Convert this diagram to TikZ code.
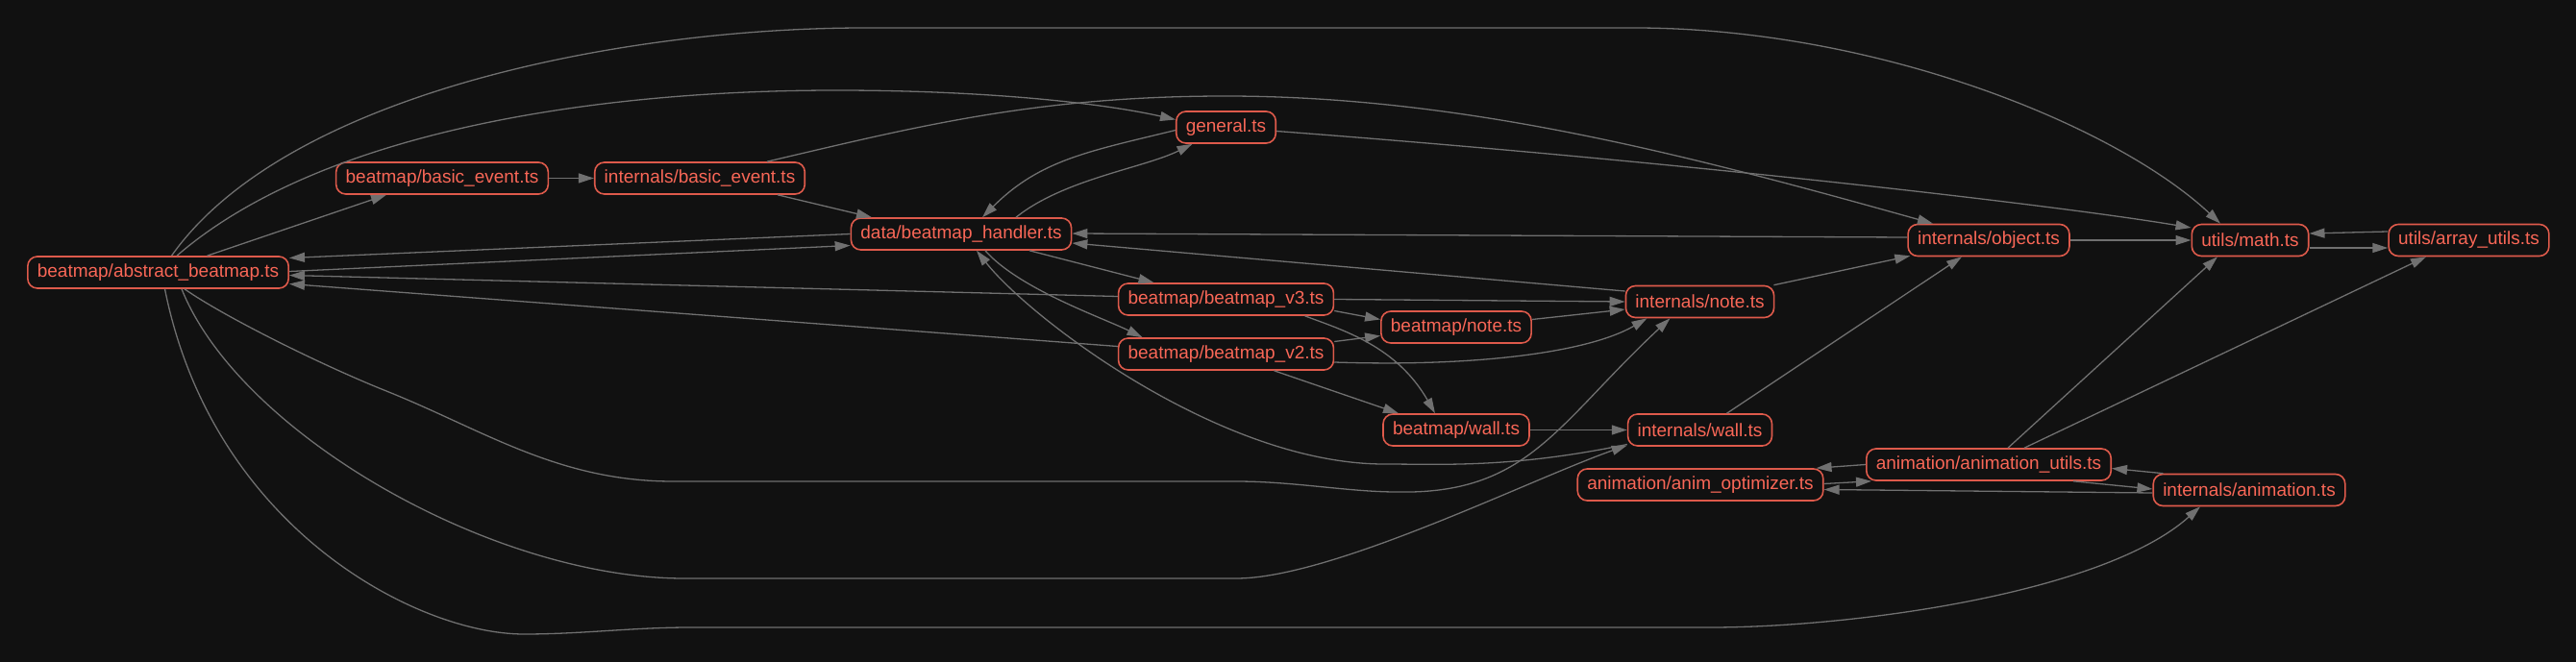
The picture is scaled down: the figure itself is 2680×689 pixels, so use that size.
\documentclass[tikz,border=0pt]{standalone}
\usepackage{fontspec}
\setmainfont{Liberation Sans}
\usetikzlibrary{arrows.meta,calc}
\definecolor{bgdark}{HTML}{111111}
\definecolor{nodeline}{HTML}{DE5A4B}
\definecolor{nodetext}{HTML}{F96757}
\definecolor{depgray}{HTML}{707070}
\begin{document}
\begin{tikzpicture}[x=.5pt,y=-.5pt,
  file/.style={draw=nodeline,fill=bgdark,text=nodetext,line width=0.8pt,rounded corners=5pt,inner xsep=5pt,inner ysep=0pt,minimum height=16.5pt,font=\fontsize{9.5}{11.4}\selectfont},
  dep/.style={draw=depgray,line width=0.65pt,-{Triangle[length=8pt,width=5pt]}}]
\path[use as bounding box,fill=bgdark] (0,0) rectangle (2680,689);
\node[file] (abs) at (164.5,283.5) {beatmap/abstract\_beatmap.ts};
\node[file] (bevt) at (460,185.5) {beatmap/basic\_event.ts};
\node[file] (ievt) at (728,185.5) {internals/basic\_event.ts};
\node[file] (gen) at (1275.5,132.5) {general.ts};
\node[file] (hdl) at (1000,243.5) {data/beatmap\_handler.ts};
\node[file] (bv3) at (1275.5,311.5) {beatmap/beatmap\_v3.ts};
\node[file] (bv2) at (1275.5,368.5) {beatmap/beatmap\_v2.ts};
\node[file] (bnote) at (1515,340.5) {beatmap/note.ts};
\node[file] (bwall) at (1515,447.5) {beatmap/wall.ts};
\node[file] (inote) at (1768.5,314) {internals/note.ts};
\node[file] (iwall) at (1768.5,447.5) {internals/wall.ts};
\node[file] (aopt) at (1769,504.5) {animation/anim\_optimizer.ts};
\node[file] (autil) at (2069,483.5) {animation/animation\_utils.ts};
\node[file] (ianim) at (2340,510) {internals/animation.ts};
\node[file] (iobj) at (2069,250) {internals/object.ts};
\node[file] (math) at (2341,250) {utils/math.ts};
\node[file] (arr) at (2568.5,250) {utils/array\_utils.ts};
\draw[dep] ($(abs.north)+(51,0)$) -- ($(bevt.south)+(-58,0)$);
\draw[dep] (bevt.east) -- (ievt.west);
\draw[dep] ($(ievt.south)+(81,0)$) -- ($(hdl.north)+(-93,0)$);
\draw[dep] ($(ievt.north)+(70,0)$) .. controls +(150,-35) and +(-200,0) .. (1275,100) .. controls +(250,0) and +(-250,-70) .. ($(iobj.north)+(-58,0)$);
\draw[dep] ($(abs.north)+(19.5,0)$) .. controls +(150,-130) and +(-250,0) .. (870,94) .. controls +(150,0) and +(-80,-18) .. ($(gen.west)+(0,-8)$);
\draw[dep] ($(abs.north)+(14,0)$) .. controls +(120,-170) and +(-250,0) .. (900,29) -- (1700,29) .. controls +(250,0) and +(-110,-103) .. ($(math.north)+(-31,0)$);
\draw[dep] ($(gen.west)+(0,3)$) .. controls +(-90,22) and +(60,-60) .. ($(hdl.north)+(22,0)$);
\draw[dep] ($(hdl.north)+(57,0)$) .. controls +(50,-40) and +(-50,25) .. ($(gen.south)+(-35,0)$);
\draw[dep] ($(gen.east)+(0,4)$) .. controls +(400,30) and +(-150,-25) .. ($(math.west)+(0,-13)$);
\draw[dep] (hdl.west) -- ($(abs.east)+(0,-15)$);
\draw[dep] ($(abs.east)+(0,-1)$) -- ($(hdl.west)+(0,12)$);
\draw[dep] ($(bv3.west)+(0,-3)$) -- ($(abs.east)+(0,3)$);
\draw[dep] ($(bv2.west)+(0,-8)$) -- ($(abs.east)+(0,12)$);
\draw[dep] ($(hdl.south)+(71,0)$) -- ($(bv3.north)+(-75,0)$);
\draw[dep] ($(hdl.south)+(25,0)$) .. controls +(35,40) and +(-40,-20) .. ($(bv2.north)+(-87,0)$);
\draw[dep] ($(iwall.west)+(0,15)$) .. controls +(-120,25) and +(60,0) .. (1440,483) .. controls +(-170,0) and +(55,70) .. ($(hdl.south)+(16,0)$);
\draw[dep] ($(iobj.west)+(0,-3)$) -- ($(hdl.east)+(0,-0.5)$);
\draw[dep] ($(inote.west)+(0,-11)$) -- ($(hdl.east)+(0,9.5)$);
\draw[dep] (bv3.east) -- (inote.west);
\draw[dep] ($(bv3.east)+(0,12)$) -- ($(bnote.west)+(0,-8)$);
\draw[dep] ($(bv3.south)+(82,0)$) .. controls +(40,15) and +(-40,-70) .. ($(bwall.north)+(-22,0)$);
\draw[dep] ($(bv2.east)+(0,-13)$) -- ($(bnote.west)+(0,9)$);
\draw[dep] ($(bv2.east)+(0,8.5)$) .. controls +(150,5) and +(-60,35) .. ($(inote.south)+(-55,0)$);
\draw[dep] ($(bv2.south)+(50,0)$) -- ($(bwall.north)+(-60,0)$);
\draw[dep] ($(bnote.east)+(0,-8)$) -- ($(inote.west)+(0,8)$);
\draw[dep] (bwall.east) -- (iwall.west);
\draw[dep] ($(abs.south)+(27.5,0)$) .. controls +(40,28) and +(-70,-28) .. (402,407) .. controls +(100,40) and +(-120,0) .. (700,501) -- (1286,501) .. controls +(60,0) and +(-50,0) .. (1453,512) .. controls +(137,3) and +(-118,110) .. ($(inote.south)+(-31,0)$);
\draw[dep] ($(abs.south)+(24.5,0)$) .. controls +(60,150) and +(-200,0) .. (712,602) -- (1286,602) .. controls +(100,0) and +(-100,35) .. ($(iwall.west)+(0,16)$);
\draw[dep] ($(abs.south)+(7,0)$) .. controls +(50,250) and +(-110,0) .. (545,660) .. controls +(60,0) and +(-60,0) .. (718,653) -- (1779,653) .. controls +(150,0) and +(-100,90) .. ($(ianim.south)+(-51,0)$);
\draw[dep] ($(iwall.north)+(28,0)$) -- ($(iobj.south)+(-28,0)$);
\draw[dep] ($(inote.north east)+(-1,0)$) -- ($(iobj.south west)+(3,-1)$);
\draw[dep] (iobj.east) -- (math.west);
\draw[dep] ($(math.east)+(0,8)$) -- ($(arr.west)+(0,8)$);
\draw[dep] ($(arr.west)+(0,-9)$) -- ($(math.east)+(0,-7)$);
\draw[dep] ($(autil.north)+(20,0)$) -- ($(math.south)+(-34,0)$);
\draw[dep] ($(autil.north)+(37,0)$) -- ($(arr.south)+(-44.5,0)$);
\draw[dep] (autil.west) -- ($(aopt.north east)+(-8,0)$);
\draw[dep] ($(aopt.east)+(0,-1)$) -- ($(autil.south west)+(6,0)$);
\draw[dep] ($(autil.south)+(88,0)$) -- ($(ianim.west)+(0,-1)$);
\draw[dep] ($(ianim.north west)+(11,0)$) -- ($(autil.east)+(0,4)$);
\draw[dep] ($(ianim.west)+(0,3)$) -- ($(aopt.east)+(0,5)$);
\end{tikzpicture}
\end{document}
